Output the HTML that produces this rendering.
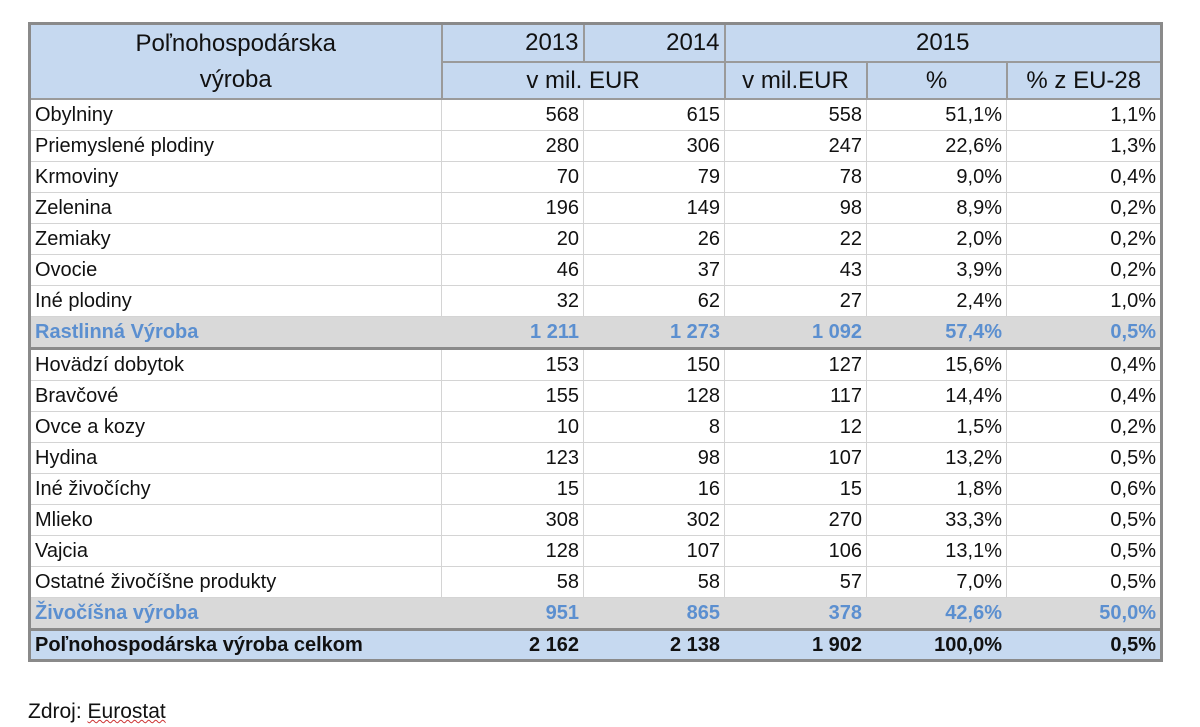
<!DOCTYPE html>
<html><head><meta charset="utf-8"><style>
body{margin:0;width:1200px;height:727px;background:#fff;font-family:"Liberation Sans",sans-serif;position:relative;overflow:hidden}
table{position:absolute;left:28px;top:22px;border-collapse:collapse;border:3px solid #8a8a8a;table-layout:fixed}
td{padding:0 4px;font-size:20px;color:#111;border:1px solid #d4d4d4;text-align:right;white-space:nowrap;overflow:hidden;height:30px}
td.l{text-align:left}
tr.h td{background:#c6d9f0;font-size:24px;text-align:center;border:2px solid #9a9a9a}
tr.h1 td{height:36px}
tr.h2 td{height:35px}
td.hp{line-height:36px}
tr.sub td{background:#d9d9d9;color:#5b8fd0;font-weight:bold;border-bottom:3px solid #8a8a8a;border-left-color:#d9d9d9;border-right-color:#d9d9d9}
tr.tot td{background:#c6d9f0;font-weight:bold;height:28px;border-left-color:#c6d9f0;border-right-color:#c6d9f0}
#src{position:absolute;left:28px;top:700px;font-size:21px;color:#111}
#src span{text-decoration:underline wavy #c33;text-decoration-thickness:1px}
</style></head><body>
<table>
<colgroup><col style="width:412px"><col style="width:142px"><col style="width:141px"><col style="width:142px"><col style="width:140px"><col style="width:155px"></colgroup>
<tr class="h h1"><td rowspan="2" class="hp">Poľnohospodárska<br>výroba</td><td style="text-align:right">2013</td><td style="text-align:right">2014</td><td colspan="3">2015</td></tr>
<tr class="h h2"><td colspan="2">v mil. EUR</td><td>v mil.EUR</td><td>%</td><td>% z EU-28</td></tr>
<tbody id="b"></tbody>
</table>
<div id="src">Zdroj: <span>Eurostat</span></div>
<script>
const rows=[
["Obylniny","568","615","558","51,1%","1,1%",""],
["Priemyslené plodiny","280","306","247","22,6%","1,3%",""],
["Krmoviny","70","79","78","9,0%","0,4%",""],
["Zelenina","196","149","98","8,9%","0,2%",""],
["Zemiaky","20","26","22","2,0%","0,2%",""],
["Ovocie","46","37","43","3,9%","0,2%",""],
["Iné plodiny","32","62","27","2,4%","1,0%",""],
["Rastlinná Výroba","1 211","1 273","1 092","57,4%","0,5%","sub"],
["Hovädzí dobytok","153","150","127","15,6%","0,4%",""],
["Bravčové","155","128","117","14,4%","0,4%",""],
["Ovce a kozy","10","8","12","1,5%","0,2%",""],
["Hydina","123","98","107","13,2%","0,5%",""],
["Iné živočíchy","15","16","15","1,8%","0,6%",""],
["Mlieko","308","302","270","33,3%","0,5%",""],
["Vajcia","128","107","106","13,1%","0,5%",""],
["Ostatné živočíšne produkty","58","58","57","7,0%","0,5%",""],
["Živočíšna výroba","951","865","378","42,6%","50,0%","sub"],
["Poľnohospodárska výroba celkom","2 162","2 138","1 902","100,0%","0,5%","tot"]];
const b=document.getElementById('b');
rows.forEach(r=>{const tr=document.createElement('tr');if(r[6])tr.className=r[6];


for(let i=0;i<6;i++){const td=document.createElement('td');td.textContent=r[i];if(i==0)td.className='l';


tr.appendChild(td);}b.appendChild(tr);});
</script>
</body></html>
